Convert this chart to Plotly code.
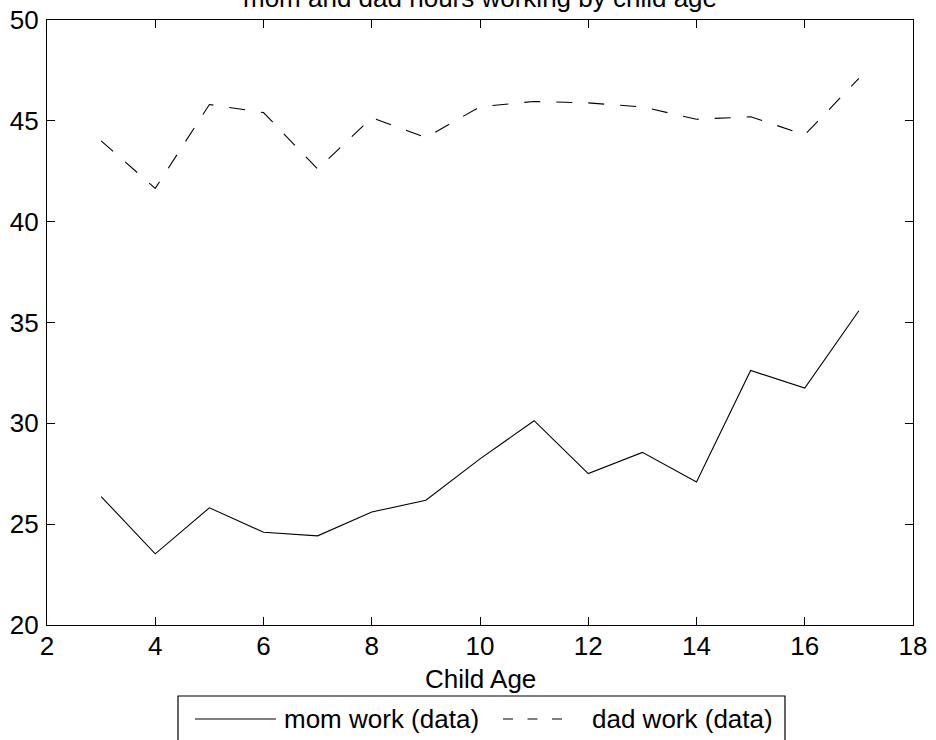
import plotly.graph_objects as go

# Average weekly hours worked by parents, by age of youngest child
child_age = [3, 4, 5, 6, 7, 8, 9, 10, 11, 12, 13, 14, 15, 16, 17]
mom_hours = [26.37, 23.53, 25.81, 24.60, 24.42, 25.60, 26.19, 28.24,
             30.13, 27.51, 28.56, 27.09, 32.62, 31.75, 35.58]
dad_hours = [44.01, 41.65, 45.81, 45.41, 42.61, 45.16, 44.17, 45.70,
             45.96, 45.89, 45.69, 45.08, 45.20, 44.31, 47.10]

x_ticks = [2, 4, 6, 8, 10, 12, 14, 16, 18]
y_ticks = [20, 25, 30, 35, 40, 45, 50]

series_names = ["mom work (data)", "dad work (data)"]
title_text = "mom and dad hours working by child age"
x_label = "Child Age"

FONT = "Liberation Sans, Arial, Helvetica, sans-serif"
FS = 26
W, H = 936, 740
ML, MR, MT, MB = 47, 23, 20, 115
PW = W - ML - MR
PH = H - MT - MB


def px_x(p):
    """pixel column -> paper x"""
    return (p - ML) / PW


def px_y(p):
    """pixel row -> paper y"""
    return (H - MB - p) / PH


fig = go.Figure()
fig.add_trace(go.Scatter(
    x=child_age, y=mom_hours, mode="lines", name=series_names[0],
    line=dict(color="black", width=1.1),
))
fig.add_trace(go.Scatter(
    x=child_age, y=dad_hours, mode="lines", name=series_names[1],
    line=dict(color="black", width=1.1, dash="16px,16px"),
))

axis_common = dict(
    showline=True, linecolor="black", linewidth=1.2, mirror="ticks",
    ticks="inside", ticklen=8, tickwidth=1.2, tickcolor="black",
    showgrid=False, zeroline=False, automargin=False,
    tickfont=dict(family=FONT, size=FS, color="black"),
)

fig.update_xaxes(range=[x_ticks[0], x_ticks[-1]], tickvals=x_ticks,
                 ticklabelstandoff=-2, **axis_common)
fig.update_yaxes(range=[y_ticks[0], y_ticks[-1]], tickvals=y_ticks,
                 ticklabelstandoff=2, **axis_common)

annotations = [
    dict(text=title_text, xref="paper", yref="paper", x=0.5, y=px_y(-2),
         xanchor="center", yanchor="middle", showarrow=False,
         font=dict(family=FONT, size=FS, color="black")),
    dict(text=x_label, xref="paper", yref="paper", x=0.5, y=px_y(679),
         xanchor="center", yanchor="middle", showarrow=False,
         font=dict(family=FONT, size=FS, color="black")),
    dict(text=series_names[0], xref="paper", yref="paper", x=px_x(282),
         y=px_y(719), xanchor="left", yanchor="middle", showarrow=False,
         font=dict(family=FONT, size=FS, color="black")),
    dict(text=series_names[1], xref="paper", yref="paper", x=px_x(590),
         y=px_y(719), xanchor="left", yanchor="middle", showarrow=False,
         font=dict(family=FONT, size=FS, color="black")),
]

shapes = [
    # legend frame
    dict(type="rect", xref="paper", yref="paper",
         x0=px_x(178), x1=px_x(785), y0=px_y(696), y1=px_y(770),
         line=dict(color="black", width=1.2), fillcolor="white"),
    # legend samples
    dict(type="line", xref="paper", yref="paper",
         x0=px_x(195), x1=px_x(276), y0=px_y(719), y1=px_y(719),
         line=dict(color="black", width=1.1)),
    dict(type="line", xref="paper", yref="paper",
         x0=px_x(503), x1=px_x(562), y0=px_y(719), y1=px_y(719),
         line=dict(color="black", width=1.1, dash="10px,14.5px")),
]

fig.update_layout(
    template="none",
    width=W, height=H, autosize=False,
    margin=dict(l=ML, r=MR, t=MT, b=MB, pad=0),
    paper_bgcolor="white", plot_bgcolor="white",
    showlegend=False,
    annotations=annotations, shapes=shapes,
    font=dict(family=FONT, size=FS, color="black"),
)

fig.write_html("out.html")
